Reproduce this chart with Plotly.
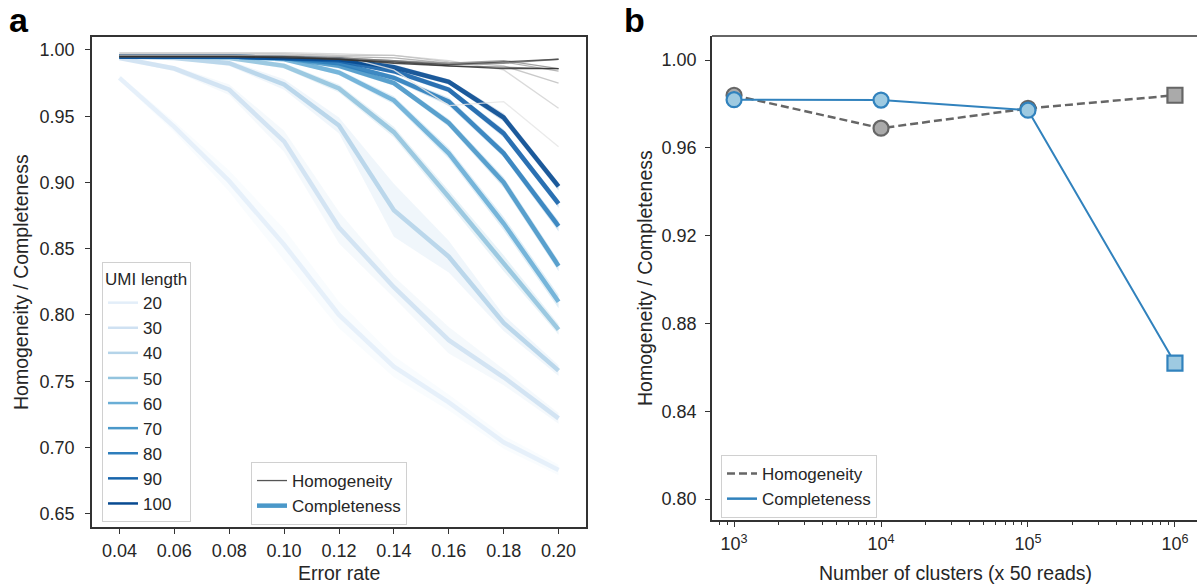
import plotly.graph_objects as go
import numpy as np

# ---------------- data ----------------
error_rate = [0.04, 0.06, 0.08, 0.10, 0.12, 0.14, 0.16, 0.18, 0.20]
umi_lengths = [20, 30, 40, 50, 60, 70, 80, 90, 100]

completeness = {
    20:  [0.979, 0.942, 0.901, 0.853, 0.800, 0.761, 0.734, 0.704, 0.683],
    30:  [0.994, 0.986, 0.970, 0.931, 0.866, 0.821, 0.781, 0.753, 0.722],
    40:  [0.995, 0.994, 0.990, 0.974, 0.943, 0.879, 0.844, 0.794, 0.758],
    50:  [0.995, 0.995, 0.994, 0.988, 0.971, 0.938, 0.889, 0.839, 0.789],
    60:  [0.995, 0.995, 0.995, 0.993, 0.983, 0.962, 0.922, 0.869, 0.810],
    70:  [0.995, 0.995, 0.995, 0.994, 0.988, 0.975, 0.945, 0.900, 0.837],
    80:  [0.995, 0.995, 0.995, 0.994, 0.990, 0.979, 0.961, 0.922, 0.867],
    90:  [0.995, 0.995, 0.995, 0.994, 0.992, 0.984, 0.970, 0.937, 0.884],
    100: [0.995, 0.995, 0.995, 0.994, 0.993, 0.987, 0.976, 0.949, 0.897],
}
completeness_ci = {
    20:  [0.002, 0.004, 0.008, 0.012, 0.010, 0.008, 0.006, 0.005, 0.004],
    30:  [0.001, 0.002, 0.004, 0.008, 0.012, 0.008, 0.010, 0.006, 0.004],
    40:  [0.001, 0.001, 0.002, 0.004, 0.006, 0.020, 0.012, 0.006, 0.004],
    50:  [0.001, 0.001, 0.001, 0.002, 0.003, 0.004, 0.005, 0.006, 0.004],
    60:  [0.001, 0.001, 0.001, 0.001, 0.002, 0.003, 0.004, 0.005, 0.005],
    70:  [0.001, 0.001, 0.001, 0.001, 0.002, 0.002, 0.003, 0.004, 0.004],
    80:  [0.001, 0.001, 0.001, 0.001, 0.001, 0.002, 0.003, 0.003, 0.004],
    90:  [0.001, 0.001, 0.001, 0.001, 0.001, 0.002, 0.002, 0.003, 0.003],
    100: [0.001, 0.001, 0.001, 0.001, 0.001, 0.002, 0.002, 0.003, 0.003],
}
homogeneity = {
    20:  [0.998, 0.998, 0.998, 0.997, 0.996, 0.985, 0.958, 0.961, 0.927],
    30:  [0.998, 0.998, 0.998, 0.998, 0.997, 0.996, 0.992, 0.985, 0.956],
    40:  [0.997, 0.997, 0.997, 0.997, 0.996, 0.996, 0.991, 0.988, 0.975],
    50:  [0.996, 0.996, 0.996, 0.996, 0.995, 0.994, 0.990, 0.991, 0.984],
    60:  [0.996, 0.996, 0.996, 0.995, 0.994, 0.992, 0.990, 0.992, 0.986],
    70:  [0.995, 0.995, 0.995, 0.995, 0.994, 0.992, 0.989, 0.990, 0.993],
    80:  [0.995, 0.995, 0.995, 0.995, 0.993, 0.991, 0.988, 0.987, 0.986],
    90:  [0.995, 0.995, 0.995, 0.995, 0.993, 0.991, 0.989, 0.991, 0.993],
    100: [0.995, 0.995, 0.995, 0.994, 0.993, 0.990, 0.988, 0.986, 0.986],
}

n_clusters = [1e3, 1e4, 1e5, 1e6]
homog_b = [0.9840, 0.9690, 0.9780, 0.9840]
compl_b = [0.9820, 0.9818, 0.9772, 0.8620]
marker_b = ["circle", "circle", "circle", "square"]

# ---------------- styles ----------------
blues = ["#e3eef9", "#cfe1f2", "#b5d4e9", "#93c4de", "#6aaed6",
         "#4a98c9", "#2e7ebc", "#1764ab", "#084a91"]
greys = ["#e6e6e6", "#d4d4d4", "#c0c0c0", "#a8a8a8", "#909090",
         "#787878", "#606060", "#484848", "#303030"]
FONT = "Liberation Sans, Arial, sans-serif"
TXT = "#262626"
SPINE = "#333333"


def rgba(hexc, a):
    h = hexc.lstrip("#")
    return "rgba(%d,%d,%d,%.2f)" % (int(h[0:2], 16), int(h[2:4], 16), int(h[4:6], 16), a)


fig = go.Figure()

# CI bands
for i, u in enumerate(umi_lengths):
    y = np.array(completeness[u])
    ci = np.array(completeness_ci[u])
    fig.add_trace(go.Scatter(x=error_rate + error_rate[::-1],
                             y=list(y + ci) + list((y - ci)[::-1]),
                             fill="toself", fillcolor=rgba(blues[i], 0.2),
                             line=dict(width=0), mode="lines", hoverinfo="skip",
                             showlegend=False, xaxis="x", yaxis="y"))

# Completeness lines
for i, u in enumerate(umi_lengths):
    fig.add_trace(go.Scatter(x=error_rate, y=completeness[u], mode="lines",
                             line=dict(color=rgba(blues[i], 0.9), width=4.5),
                             showlegend=False, xaxis="x", yaxis="y"))

# Homogeneity lines
for i, u in enumerate(umi_lengths):
    fig.add_trace(go.Scatter(x=error_rate, y=homogeneity[u], mode="lines",
                             line=dict(color=rgba(greys[i], 0.85), width=1.3),
                             showlegend=False, xaxis="x", yaxis="y"))

# legend proxies (UMI length)
for i, u in enumerate(umi_lengths):
    fig.add_trace(go.Scatter(x=[None], y=[None], mode="lines", name=str(u),
                             line=dict(color=blues[i], width=2.5),
                             legend="legend", xaxis="x", yaxis="y"))

# legend proxies (metric, panel a)
fig.add_trace(go.Scatter(x=[None], y=[None], mode="lines", name="Homogeneity",
                         line=dict(color="#555555", width=1.3), legend="legend2",
                         xaxis="x", yaxis="y"))
fig.add_trace(go.Scatter(x=[None], y=[None], mode="lines", name="Completeness",
                         line=dict(color="#4a98c9", width=4.5), legend="legend2",
                         xaxis="x", yaxis="y"))

# Panel b
fig.add_trace(go.Scatter(x=n_clusters, y=homog_b, mode="lines+markers",
                         line=dict(color="#666666", width=2.5, dash="8px,4px"),
                         marker=dict(symbol=marker_b, size=15, color="#aaaaaa",
                                     line=dict(color="#666666", width=2.2)),
                         showlegend=False, xaxis="x2", yaxis="y2"))
fig.add_trace(go.Scatter(x=n_clusters, y=compl_b, mode="lines+markers",
                         line=dict(color="#3182bd", width=2),
                         marker=dict(symbol=marker_b, size=15, color="#9ecae1",
                                     line=dict(color="#3182bd", width=2.2)),
                         showlegend=False, xaxis="x2", yaxis="y2"))
# legend proxies (panel b)
fig.add_trace(go.Scatter(x=[None], y=[None], mode="lines", name="Homogeneity",
                         line=dict(color="#666666", width=2.5, dash="8px,4px"),
                         legend="legend3", xaxis="x2", yaxis="y2"))
fig.add_trace(go.Scatter(x=[None], y=[None], mode="lines", name="Completeness",
                         line=dict(color="#3182bd", width=2.5),
                         legend="legend3", xaxis="x2", yaxis="y2"))

W, H = 1197, 588
axa_x = [92 / W, 586 / W]
axa_y = [1 - 527 / H, 1 - 37 / H]
axb_x = [712 / W, 1.0]
axb_y = [1 - 520 / H, 1 - 36 / H]

tickfont = dict(family=FONT, size=18, color=TXT)
common = dict(showline=True, linecolor=SPINE, linewidth=1.5, ticks="outside",
              ticklen=5, tickwidth=1.3, tickcolor=SPINE, showgrid=False,
              zeroline=False, tickfont=tickfont)

minor_vals = [k * 10 ** e for e in range(2, 7) for k in range(2, 10)]
LEGFONT = dict(family=FONT, size=17, color=TXT)
LBL = dict(family=FONT, size=19.5, color=TXT)

fig.update_layout(
    width=W, height=H, margin=dict(l=0, r=0, t=0, b=0),
    paper_bgcolor="white", plot_bgcolor="white",
    font=dict(family=FONT, color=TXT),
    xaxis=dict(domain=axa_x, range=[0.03, 0.21], anchor="y", mirror=True,
               tickvals=error_rate, ticktext=["%.2f" % v for v in error_rate],
               ticklabelstandoff=2, **common),
    yaxis=dict(domain=axa_y, range=[0.640, 1.0098], anchor="x", mirror=True,
               tickvals=[0.65, 0.70, 0.75, 0.80, 0.85, 0.90, 0.95, 1.00],
               ticktext=["0.65", "0.70", "0.75", "0.80", "0.85", "0.90", "0.95", "1.00"],
               ticklabelstandoff=7, **common),
    xaxis2=dict(domain=axb_x, type="log", range=[2.85, 6.15], anchor="y2",
                tickvals=n_clusters,
                ticktext=["10<sup>3</sup>", "10<sup>4</sup>", "10<sup>5</sup>", "10<sup>6</sup>"],
                minor=dict(tickvals=minor_vals, ticks="outside", ticklen=3,
                           tickwidth=1, tickcolor=SPINE),
                ticklabelstandoff=2, **common),
    yaxis2=dict(domain=axb_y, range=[0.7905, 1.0110], anchor="x2",
                tickvals=[0.80, 0.84, 0.88, 0.92, 0.96, 1.00],
                ticktext=["0.80", "0.84", "0.88", "0.92", "0.96", "1.00"],
                ticklabelstandoff=5, **common),
    legend=dict(x=102 / W, y=1 - 262 / H, xanchor="left", yanchor="top",
                bgcolor="rgba(255,255,255,0.8)", bordercolor="#d0d0d0", borderwidth=1,
                title=dict(text="UMI length", font=LEGFONT),
                font=LEGFONT, tracegroupgap=0, itemwidth=30),
    legend2=dict(x=251 / W, y=1 - 462 / H, xanchor="left", yanchor="top",
                 bgcolor="rgba(255,255,255,0.8)", bordercolor="#d0d0d0", borderwidth=1,
                 font=LEGFONT, itemwidth=30),
    legend3=dict(x=721 / W, y=1 - 455 / H, xanchor="left", yanchor="top",
                 bgcolor="rgba(255,255,255,0.8)", bordercolor="#d0d0d0", borderwidth=1,
                 font=LEGFONT, itemwidth=30),
    shapes=[dict(type="line", xref="x2 domain", yref="y2 domain", x0=0, x1=1, y0=1, y1=1,
                 line=dict(color=SPINE, width=1.5))],
    annotations=[
        dict(text="<b>a</b>", x=19 / W, y=1 - 20 / H, xref="paper", yref="paper",
             xanchor="center", yanchor="middle", showarrow=False,
             font=dict(family=FONT, size=34, color="black")),
        dict(text="<b>b</b>", x=634 / W, y=1 - 20 / H, xref="paper", yref="paper",
             xanchor="center", yanchor="middle", showarrow=False,
             font=dict(family=FONT, size=34, color="black")),
        dict(text="Homogeneity / Completeness", x=21 / W, y=1 - 282 / H, xref="paper",
             yref="paper", xanchor="center", yanchor="middle", showarrow=False,
             textangle=-90, font=LBL),
        dict(text="Homogeneity / Completeness", x=645 / W, y=1 - 278 / H, xref="paper",
             yref="paper", xanchor="center", yanchor="middle", showarrow=False,
             textangle=-90, font=LBL),
        dict(text="Error rate", x=339 / W, y=1 - 573 / H, xref="paper", yref="paper",
             xanchor="center", yanchor="middle", showarrow=False, font=LBL),
        dict(text="Number of clusters (x 50 reads)", x=955 / W, y=1 - 573 / H,
             xref="paper", yref="paper", xanchor="center", yanchor="middle",
             showarrow=False, font=LBL),
    ],
)

fig.write_html("out.html")
